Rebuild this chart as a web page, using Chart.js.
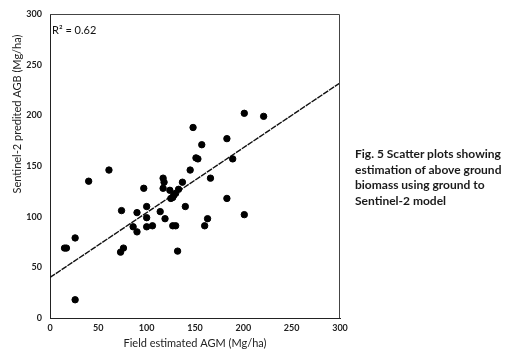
<!DOCTYPE html>
<html>
<head>
<meta charset="utf-8">
<script src="https://cdn.jsdelivr.net/npm/chart.js@4.4.1/dist/chart.umd.min.js"></script>
<style>
  html, body { margin: 0; padding: 0; background: #fff; }
  #wrap { position: relative; width: 521px; height: 356px; overflow: hidden; }
  #c { position: absolute; left: 0; top: 0; }
  #caption {
    position: absolute; left: 355px; top: 146px; width: 166px;
    font-family: Lato, "Open Sans", sans-serif; font-weight: 700;
    font-size: 12px; line-height: 15.6px; color: #1a1a1a;
  }
</style>
</head>
<body>
<div id="wrap">
  <canvas id="c" width="521" height="356"></canvas>
  <div id="caption">Fig. 5 Scatter plots showing<br>estimation of above ground<br>biomass using ground to<br>Sentinel-2 model</div>
</div>
<script>
// Field estimated AGM (Mg/ha)
const fieldAGM = [15, 17, 26, 26, 40, 61, 74, 73, 76, 86, 90, 90, 97, 100, 100, 100, 106, 114,
  117, 118, 117, 119, 124, 125, 127, 128, 130, 127, 130, 132, 133, 137, 140, 145, 148, 151,
  153, 157, 160, 163, 166, 183, 183, 189, 201, 201, 221];
// Sentinel-2 predicted AGB (Mg/ha)
const predictedAGB = [69, 69, 79, 18, 135, 146, 106, 65, 69, 90, 104, 85, 128, 110, 99, 90, 91, 105,
  138, 134, 128, 98, 126, 118, 119, 121, 123, 91, 91, 66, 127, 134, 110, 146, 188, 158,
  157, 171, 91, 98, 138, 177, 118, 157, 202, 102, 199];
// Trend line end points
const trendX = [0, 300];
const trendY = [40, 232];
const xTicks = [0, 50, 100, 150, 200, 250, 300];
const yTicks = [0, 50, 100, 150, 200, 250, 300];
const r2Label = 'R\u00B2 = 0.62';
const xTitle = 'Field estimated AGM (Mg/ha)';
const yTitle = 'Sentinel-2 predited AGB (Mg/ha)';

const FONT = 'Lato, "Open Sans", sans-serif';

const framePlugin = {
  id: 'frame',
  afterDraw(chart) {
    const {ctx, chartArea: a} = chart;
    ctx.save();
    ctx.strokeStyle = '#444';
    ctx.lineWidth = 1;
    ctx.beginPath();
    ctx.moveTo(a.left, a.top + 0.5);
    ctx.lineTo(a.right - 0.5, a.top + 0.5);
    ctx.lineTo(a.right - 0.5, a.bottom);
    ctx.stroke();
    // R² label
    ctx.fillStyle = '#111';
    ctx.font = '11px ' + FONT;
    ctx.textBaseline = 'middle';
    ctx.textAlign = 'left';
    ctx.fillText(r2Label, a.left + 2, a.top + 16);
    // y title
    ctx.translate(17, 114);
    ctx.rotate(-Math.PI / 2);
    ctx.textAlign = 'center';
    ctx.fillStyle = '#222';
    ctx.fillText(yTitle, 0, 0);
    ctx.restore();
  }
};

new Chart(document.getElementById('c'), {
  type: 'scatter',
  data: {
    datasets: [
      {
        label: 'Observed',
        data: fieldAGM.map((x, i) => ({x: x, y: predictedAGB[i]})),
        backgroundColor: '#000',
        borderColor: '#000',
        pointRadius: 3.2,
        pointHoverRadius: 3.2,
        order: 1
      },
      {
        label: 'Trend',
        type: 'line',
        data: trendX.map((x, i) => ({x: x, y: trendY[i]})),
        borderColor: '#111',
        borderWidth: 1.4,
        borderDash: [6, 1],
        pointRadius: 0,
        fill: false,
        order: 2
      }
    ]
  },
  options: {
    responsive: false,
    devicePixelRatio: 1,
    animation: false,
    layout: { padding: { left: 0, top: 14, right: 181, bottom: 0 } },
    plugins: { legend: { display: false }, tooltip: { enabled: false } },
    scales: {
      x: {
        type: 'linear', min: 0, max: 300,
        afterBuildTicks: s => { s.ticks = xTicks.map(v => ({value: v})); },
        afterFit: s => { s.height = 38; },
        grid: { display: false, drawTicks: false },
        border: { display: true, color: '#222', width: 1 },
        ticks: { padding: 5, color: '#222', font: { family: FONT, size: 9, weight: 'bold' }, maxRotation: 0 },
        title: { display: true, text: xTitle, color: '#222', font: { family: FONT, size: 11 }, padding: { top: 0, bottom: 6 } }
      },
      y: {
        type: 'linear', min: 0, max: 300,
        afterBuildTicks: s => { s.ticks = yTicks.map(v => ({value: v})); },
        afterFit: s => { s.width = 50; },
        grid: { display: false, drawTicks: false },
        border: { display: true, color: '#222', width: 1 },
        ticks: { padding: 8, color: '#222', font: { family: FONT, size: 9, weight: 'bold' } }
      }
    }
  },
  plugins: [framePlugin]
});
</script>
</body>
</html>
